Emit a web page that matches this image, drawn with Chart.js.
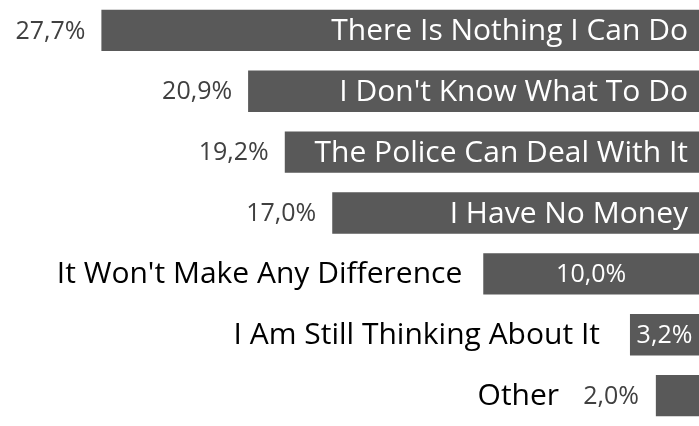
<!DOCTYPE html>
<html>
<head>
<meta charset="utf-8">
<script src="https://cdn.jsdelivr.net/npm/chart.js@4"></script>
<style>
  html, body { margin: 0; padding: 0; background: #fff; }
  #wrap { width: 699px; height: 426px; position: relative; }
</style>
</head>
<body>
<div id="wrap"><canvas id="c"></canvas></div>
<script>
const categories = [
  "There Is Nothing I Can Do",
  "I Don't Know What To Do",
  "The Police Can Deal With It",
  "I Have No Money",
  "It Won't Make Any Difference",
  "I Am Still Thinking About It",
  "Other"
];
const values = [27.7, 20.9, 19.2, 17.0, 10.0, 3.2, 2.0];

const BAR = '#595959';
const FONT = '"Open Sans", "Noto Sans", sans-serif';
const CAT_FONT = '400 30px ' + FONT;
const VAL_FONT = '400 25px ' + FONT;

function fmt(v) { return v.toFixed(1).replace('.', ',') + '%'; }

const labelPlugin = {
  id: 'labels',
  afterDatasetsDraw(chart) {
    const ctx = chart.ctx;
    const meta = chart.getDatasetMeta(0);
    ctx.save();
    ctx.textBaseline = 'middle';
    meta.data.forEach((bar, i) => {
      const left = Math.min(bar.x, bar.base);
      const right = Math.max(bar.x, bar.base);
      const w = right - left;
      const y = bar.y + 1;
      const cat = categories[i];
      const val = fmt(values[i]);
      ctx.font = CAT_FONT;
      const cw = ctx.measureText(cat).width;
      ctx.font = VAL_FONT;
      const vw = ctx.measureText(val).width;
      if (cw + 20 <= w) {
        ctx.font = CAT_FONT; ctx.fillStyle = '#ffffff'; ctx.textAlign = 'right';
        ctx.fillText(cat, right - 11, y);
        ctx.font = VAL_FONT; ctx.fillStyle = '#404040'; ctx.textAlign = 'right';
        ctx.fillText(val, left - 16, y);
      } else if (vw + 4 <= w) {
        ctx.font = VAL_FONT; ctx.fillStyle = '#ffffff'; ctx.textAlign = 'center';
        ctx.fillText(val, (left + right) / 2, y);
        ctx.font = CAT_FONT; ctx.fillStyle = '#000000'; ctx.textAlign = 'right';
        ctx.fillText(cat, left - (w < 100 ? 30 : 21), y);
      } else {
        ctx.font = VAL_FONT; ctx.fillStyle = '#404040'; ctx.textAlign = 'right';
        ctx.fillText(val, left - 17, y);
        ctx.font = CAT_FONT; ctx.fillStyle = '#000000'; ctx.textAlign = 'right';
        ctx.fillText(cat, left - 17 - vw - 24, y);
      }
    });
    ctx.restore();
  }
};

new Chart(document.getElementById('c'), {
  type: 'bar',
  data: {
    labels: categories,
    datasets: [{
      data: values,
      backgroundColor: BAR,
      borderWidth: 0,
      categoryPercentage: 0.68,
      barPercentage: 1.0
    }]
  },
  options: {
    indexAxis: 'y',
    responsive: true,
    maintainAspectRatio: false,
    animation: false,
    layout: { padding: { top: -6, bottom: -11, left: 0, right: 0 } },
    plugins: { legend: { display: false }, tooltip: { enabled: false } },
    scales: {
      x: { display: false, reverse: true, min: 0, max: 32.4, grid: { display: false } },
      y: { display: false, grid: { display: false } }
    }
  },
  plugins: [labelPlugin]
});
</script>
</body>
</html>
